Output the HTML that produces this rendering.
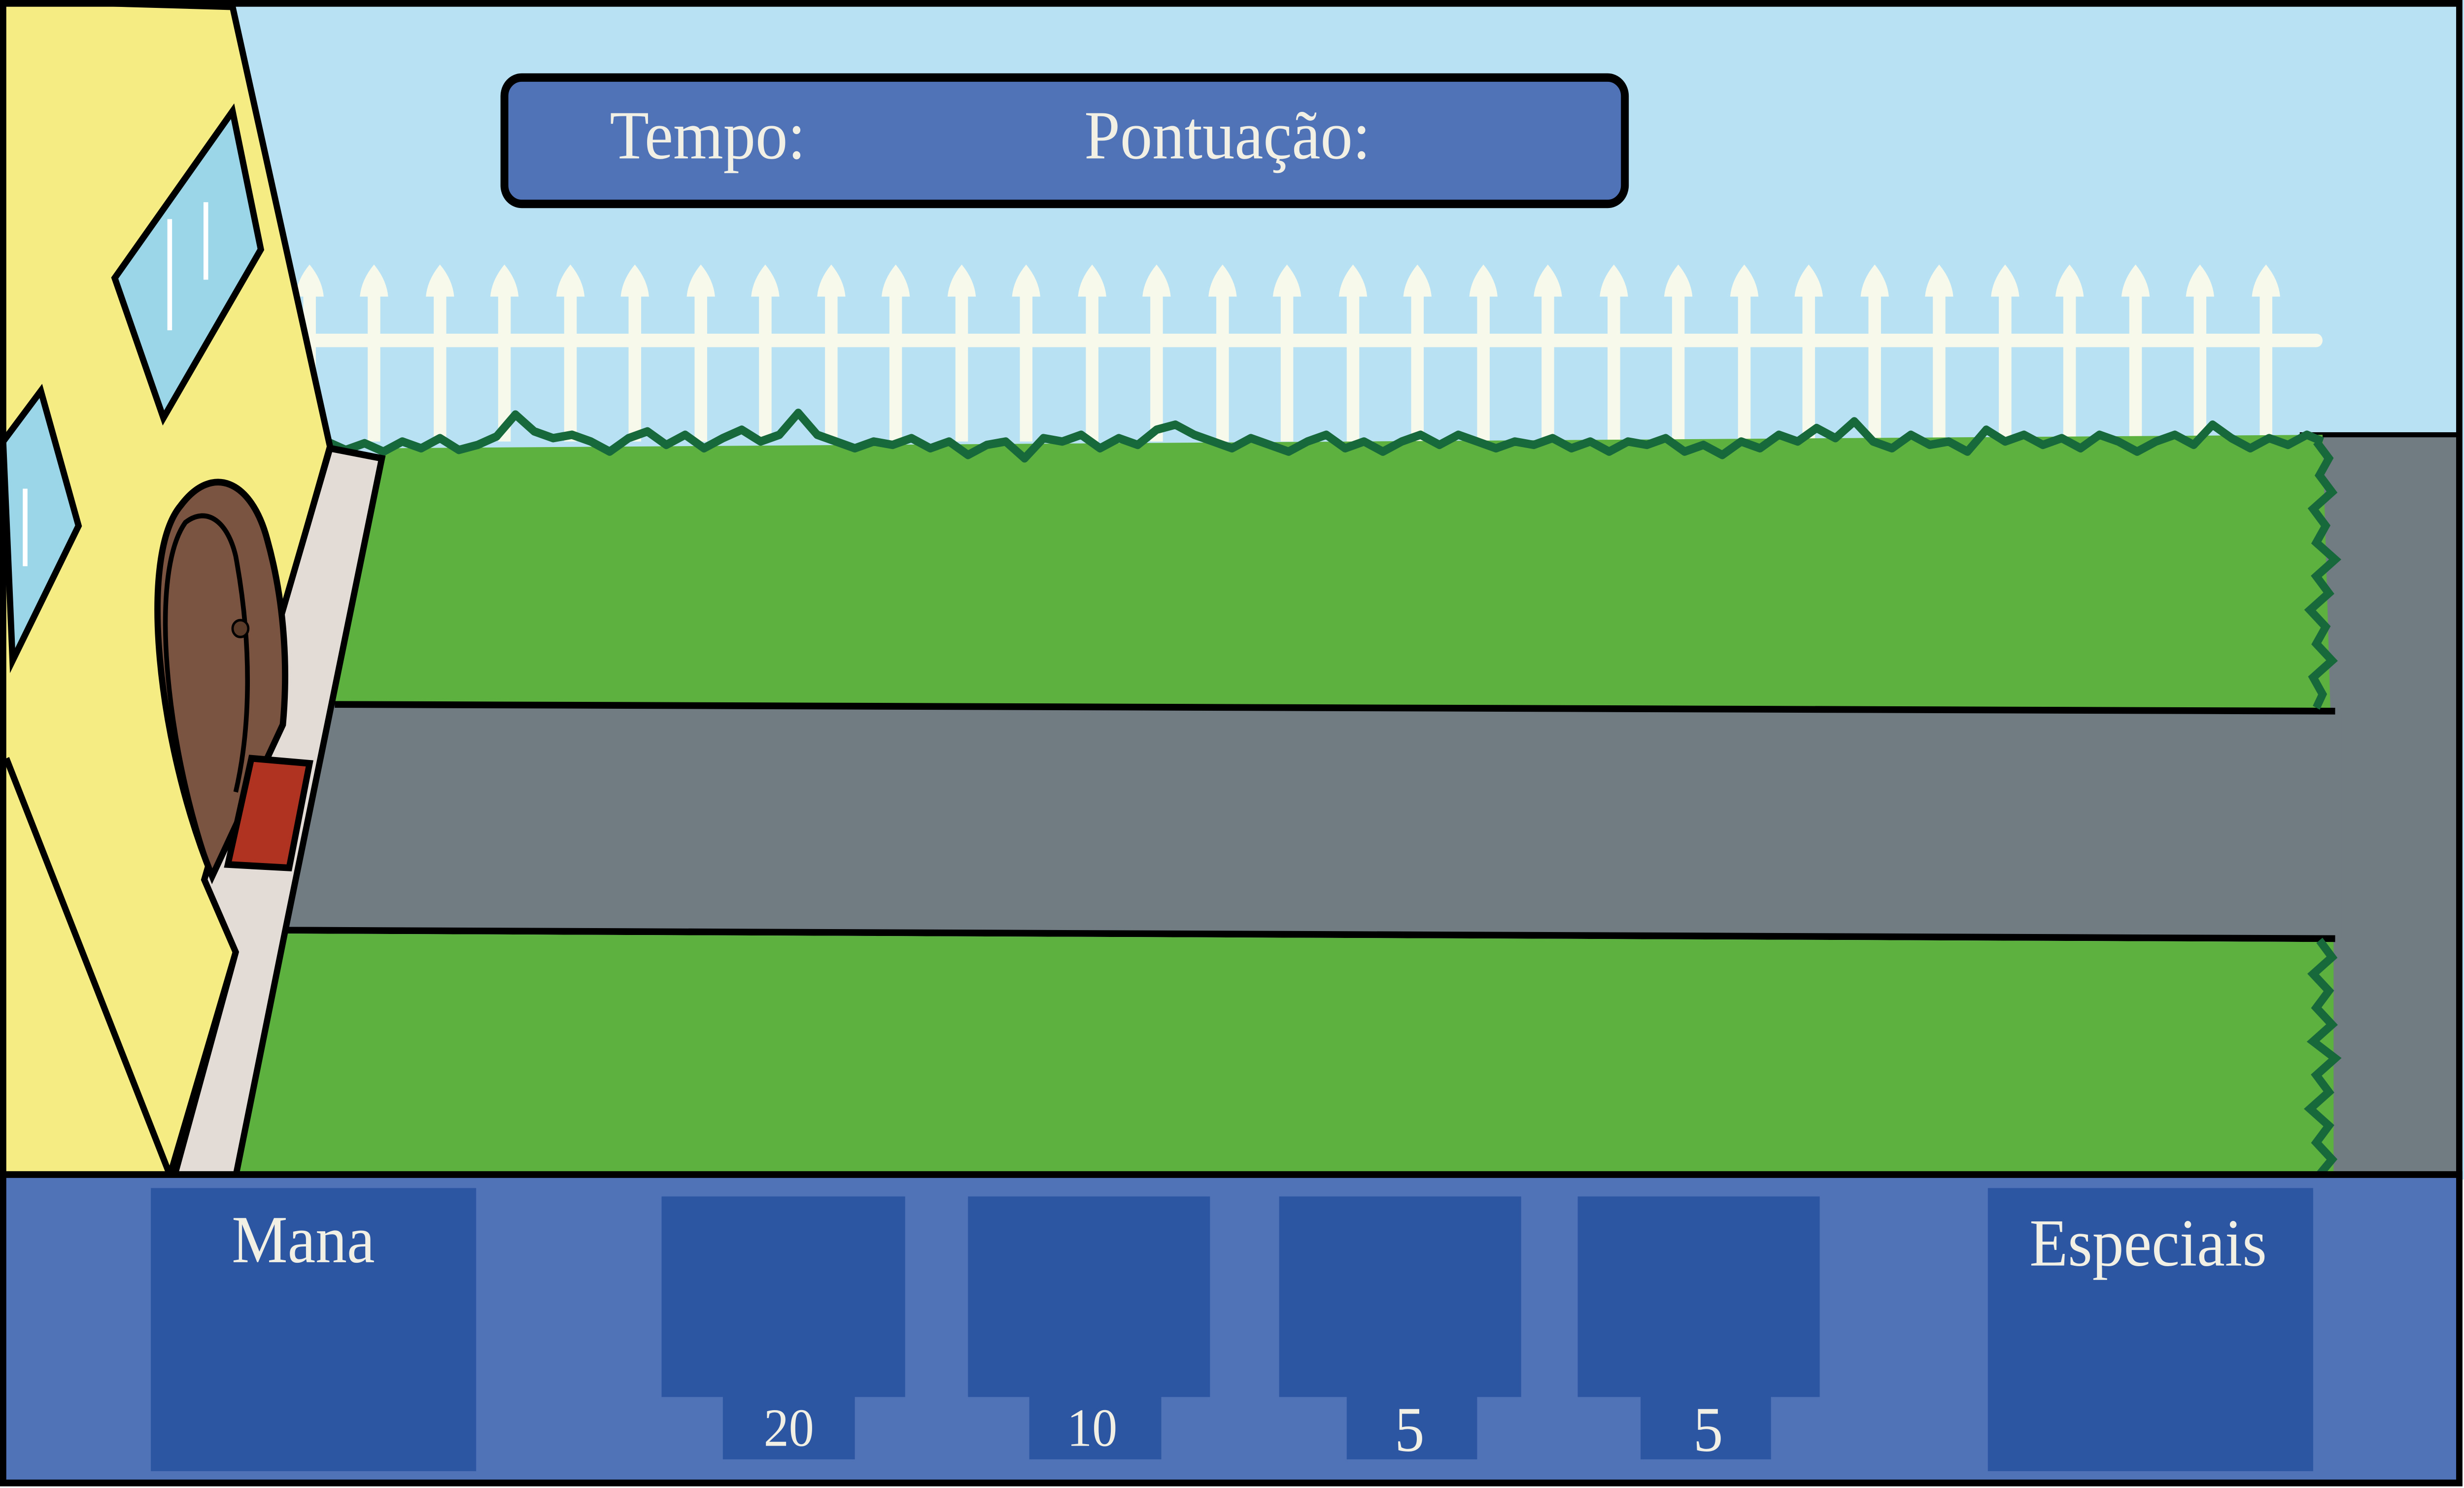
<!DOCTYPE html>
<html><head><meta charset="utf-8"><style>
html,body{margin:0;padding:0;width:100%;height:100%;overflow:hidden;background:#fff}
svg{display:block;position:fixed;left:0;top:0;width:100vw;height:100vh}
text{font-family:"Liberation Serif",serif;fill:#f2f0e4}
</style></head><body>
<svg viewBox="0 0 1568 883" preserveAspectRatio="none" xmlns="http://www.w3.org/2000/svg">
<defs>
<path id="pk" d="M-4,262 L-4,176 L-9,176 Q-8,166 0,157 Q8,166 9,176 L4,176 L4,262 Z" fill="#f7f9ea"/>
</defs>
<rect x="0" y="0" width="1568" height="700" fill="#b8e2f4"/>
<g>
<rect x="190" y="198" width="1288" height="8" rx="4" fill="#f7f9ea"/>
<use href="#pk" x="197"/><use href="#pk" x="238"/><use href="#pk" x="280"/><use href="#pk" x="321"/><use href="#pk" x="363"/><use href="#pk" x="404"/><use href="#pk" x="446"/><use href="#pk" x="487"/><use href="#pk" x="529"/><use href="#pk" x="570"/><use href="#pk" x="612"/><use href="#pk" x="653"/><use href="#pk" x="695"/><use href="#pk" x="736"/><use href="#pk" x="778"/><use href="#pk" x="819"/><use href="#pk" x="861"/><use href="#pk" x="902"/><use href="#pk" x="944"/><use href="#pk" x="985"/><use href="#pk" x="1027"/><use href="#pk" x="1068"/><use href="#pk" x="1110"/><use href="#pk" x="1151"/><use href="#pk" x="1193"/><use href="#pk" x="1234"/><use href="#pk" x="1276"/><use href="#pk" x="1317"/><use href="#pk" x="1359"/><use href="#pk" x="1400"/><use href="#pk" x="1442"/>
</g>
<rect x="1465" y="258" width="100" height="440" fill="#707b82" stroke="#000" stroke-width="3"/>
<polygon points="243,266 1478,258 1483,422 213,418" fill="#5db13e"/>
<polygon points="213,418 1490,422 1490,557 183,552" fill="#707b82"/>
<polyline points="213,418 1486,422" fill="none" stroke="#000" stroke-width="4"/>
<polyline points="183,552 1486,557" fill="none" stroke="#000" stroke-width="4"/>
<polygon points="183,554 1485,559 1485,698 150,698" fill="#5db13e"/>
<polyline fill="none" stroke="#17683a" stroke-width="5" stroke-linejoin="round" points="208,262 220,267 232,263 244,268 256,262 268,266 280,260 292,267 304,264 316,259 328,246 340,256 352,260 364,258 376,262 388,268 400,260 412,256 424,264 436,258 448,266 460,260 472,255 484,262 496,258 508,245 520,258 532,262 544,266 556,262 568,264 580,260 592,266 604,262 616,270 628,264 640,262 652,272 664,260 676,262 688,258 700,266 712,260 724,264 736,255 748,252 760,258 772,262 784,266 796,260 808,264 820,268 832,262 844,258 856,266 868,262 880,268 892,262 904,258 916,264 928,258 940,262 952,266 964,262 976,264 988,260 1000,266 1012,262 1024,268 1036,262 1048,264 1060,260 1072,268 1084,264 1096,270 1108,262 1120,266 1132,258 1144,262 1156,254 1168,260 1180,250 1192,262 1204,266 1216,258 1228,264 1240,262 1252,268 1264,255 1276,262 1288,258 1300,264 1312,260 1324,266 1336,258 1348,262 1360,268 1372,262 1384,258 1396,264 1408,252 1420,260 1432,266 1444,260 1456,264 1468,258 1478,262"/>
<polyline fill="none" stroke="#17683a" stroke-width="5" points="1474,262 1482,272 1476,282 1484,292 1472,302 1480,312 1474,322 1486,332 1474,342 1482,352 1470,362 1480,372 1474,382 1484,392 1472,402 1478,412 1474,420"/>
<polyline fill="none" stroke="#17683a" stroke-width="5" points="1476,558 1484,568 1472,578 1482,588 1474,598 1484,608 1472,618 1486,628 1474,638 1482,648 1470,658 1482,668 1474,678 1484,688 1476,697"/>
<polygon points="0,0 148,4 210,265 132,520 150,565 108,698 0,698" fill="#f5ec84" stroke="#000" stroke-width="4"/>
<polyline points="4,450 108,697" fill="none" stroke="#000" stroke-width="4"/>
<polygon points="210,266 243,272 182,550 150,698 111,698 150,565 130,522" fill="#e3dcd6" stroke="#000" stroke-width="4"/>
<polygon points="73,165 148,66 166,148 104,248" fill="#9ad6e8" stroke="#000" stroke-width="4"/>
<line x1="108" y1="130" x2="108" y2="196" stroke="#fff" stroke-width="3"/>
<line x1="131" y1="120" x2="131" y2="166" stroke="#fff" stroke-width="3"/>
<polygon points="2,262 26,232 50,312 8,392" fill="#9ad6e8" stroke="#000" stroke-width="4"/>
<line x1="16" y1="290" x2="16" y2="336" stroke="#fff" stroke-width="3"/>
<path d="M135,520 C100,440 88,330 115,300 C135,275 160,285 170,320 C182,360 183,400 180,430 Z" fill="#7a5440" stroke="#000" stroke-width="4"/>
<path d="M133,515 C105,440 95,340 118,310 C132,300 145,310 150,330 C160,380 160,430 150,470" fill="none" stroke="#000" stroke-width="3"/>
<circle cx="153" cy="373" r="5" fill="#5a3a28" stroke="#000" stroke-width="1.5"/>
<polygon points="160,450 197,453 184,515 145,513" fill="#b03322" stroke="#000" stroke-width="4"/>
<rect x="2" y="2" width="1563" height="878" fill="none" stroke="#000" stroke-width="4"/>
<g>
<rect x="321" y="46" width="713" height="75" rx="11" fill="#5073b8" stroke="#000" stroke-width="5"/>
<text x="388" y="94" font-size="41">Tempo:</text>
<text x="690" y="94" font-size="41">Pontuação:</text>
</g>
<g>
<rect x="2" y="697" width="1563" height="183" fill="#5073b8" stroke="#000" stroke-width="4"/>
<rect x="96" y="705" width="207" height="168" fill="#2d56a2"/>
<text x="193" y="749" font-size="40" text-anchor="middle">Mana</text>
<rect x="1265" y="705" width="207" height="168" fill="#2d56a2"/>
<text x="1367" y="751" font-size="40" text-anchor="middle">Especiais</text>
<g><rect x="421" y="710" width="155" height="119" fill="#2d56a2"/><rect x="460" y="826" width="84" height="40" fill="#2d56a2"/><text x="502" y="858" font-size="32" text-anchor="middle">20</text></g>
<g><rect x="616" y="710" width="154" height="119" fill="#2d56a2"/><rect x="655" y="826" width="84" height="40" fill="#2d56a2"/><text x="695" y="858" font-size="32" text-anchor="middle">10</text></g>
<g><rect x="814" y="710" width="154" height="119" fill="#2d56a2"/><rect x="857" y="826" width="83" height="40" fill="#2d56a2"/><text x="897" y="861" font-size="38" text-anchor="middle">5</text></g>
<g><rect x="1004" y="710" width="154" height="119" fill="#2d56a2"/><rect x="1044" y="826" width="83" height="40" fill="#2d56a2"/><text x="1087" y="861" font-size="38" text-anchor="middle">5</text></g>
</g>
</svg>
</body></html>
